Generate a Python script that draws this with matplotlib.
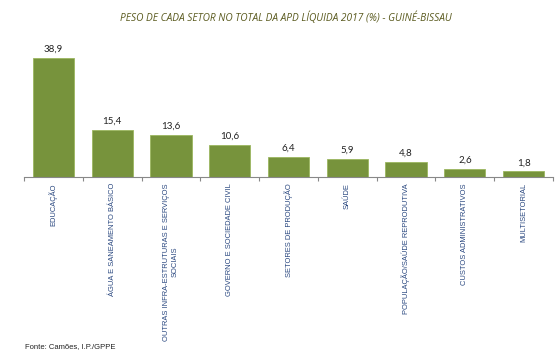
import numpy as np
import matplotlib.pyplot as plt

# data
setores = ['EDUCAÇÃO', 'ÁGUA E SANEAMENTO BÁSICO',
           'OUTRAS INFRA-ESTRUTURAS E SERVIÇOS\nSOCIAIS',
           'GOVERNO E SOCIEDADE CIVIL', 'SETORES DE PRODUÇÃO', 'SAÚDE',
           'POPULAÇÃO/SAÚDE REPRODUTIVA', 'CUSTOS ADMINISTRATIVOS',
           'MULTISETORIAL']
valores = [38.9, 15.4, 13.6, 10.6, 6.4, 5.9, 4.8, 2.6, 1.8]

fig = plt.figure(figsize=(5.6, 3.62), dpi=100)
ax = fig.add_axes([24 / 560, 185 / 362, 529 / 560, 137 / 362])

x = np.arange(len(setores))
ax.bar(x, valores, width=0.7, color='#77933C', edgecolor='#9BB760', linewidth=0.6)
for xi, v in zip(x, valores):
    ax.text(xi, v + 1.4, f'{v:.1f}'.replace('.', ','), ha='center', va='bottom',
            fontsize=7, family='Lato', color='#222222')

ax.set_xlim(-0.5, len(setores) - 0.5)
ax.set_ylim(0, 137 / 3.06)
for s in ['top', 'right', 'left']:
    ax.spines[s].set_visible(False)
ax.spines['bottom'].set_color('#888888')
ax.spines['bottom'].set_linewidth(0.8)
ax.set_yticks([])
ax.set_xticks(np.arange(len(setores) + 1) - 0.5)
ax.set_xticklabels([])
ax.tick_params(axis='x', length=3, color='#888888', width=0.8)

for xi, s in zip(x, setores):
    ax.text(xi, -2.0, s, rotation=90, ha='center', va='top', multialignment='center',
            fontsize=5.4, family='Liberation Sans', color='#28467F')

fig.text(0.51, 0.952, 'PESO DE CADA SETOR NO TOTAL DA APD LÍQUIDA 2017 (%) - GUINÉ-BISSAU',
         ha='center', va='center', fontsize=7.3, style='italic', family='Open Sans',
         color='#5A5A1E')
fig.text(25 / 560, 1 - 347 / 362, 'Fonte: Camões, I.P./GPPE', ha='left', va='center',
         fontsize=5.5, family='Liberation Sans', color='#222222')

fig.savefig('out.png', dpi=100)
